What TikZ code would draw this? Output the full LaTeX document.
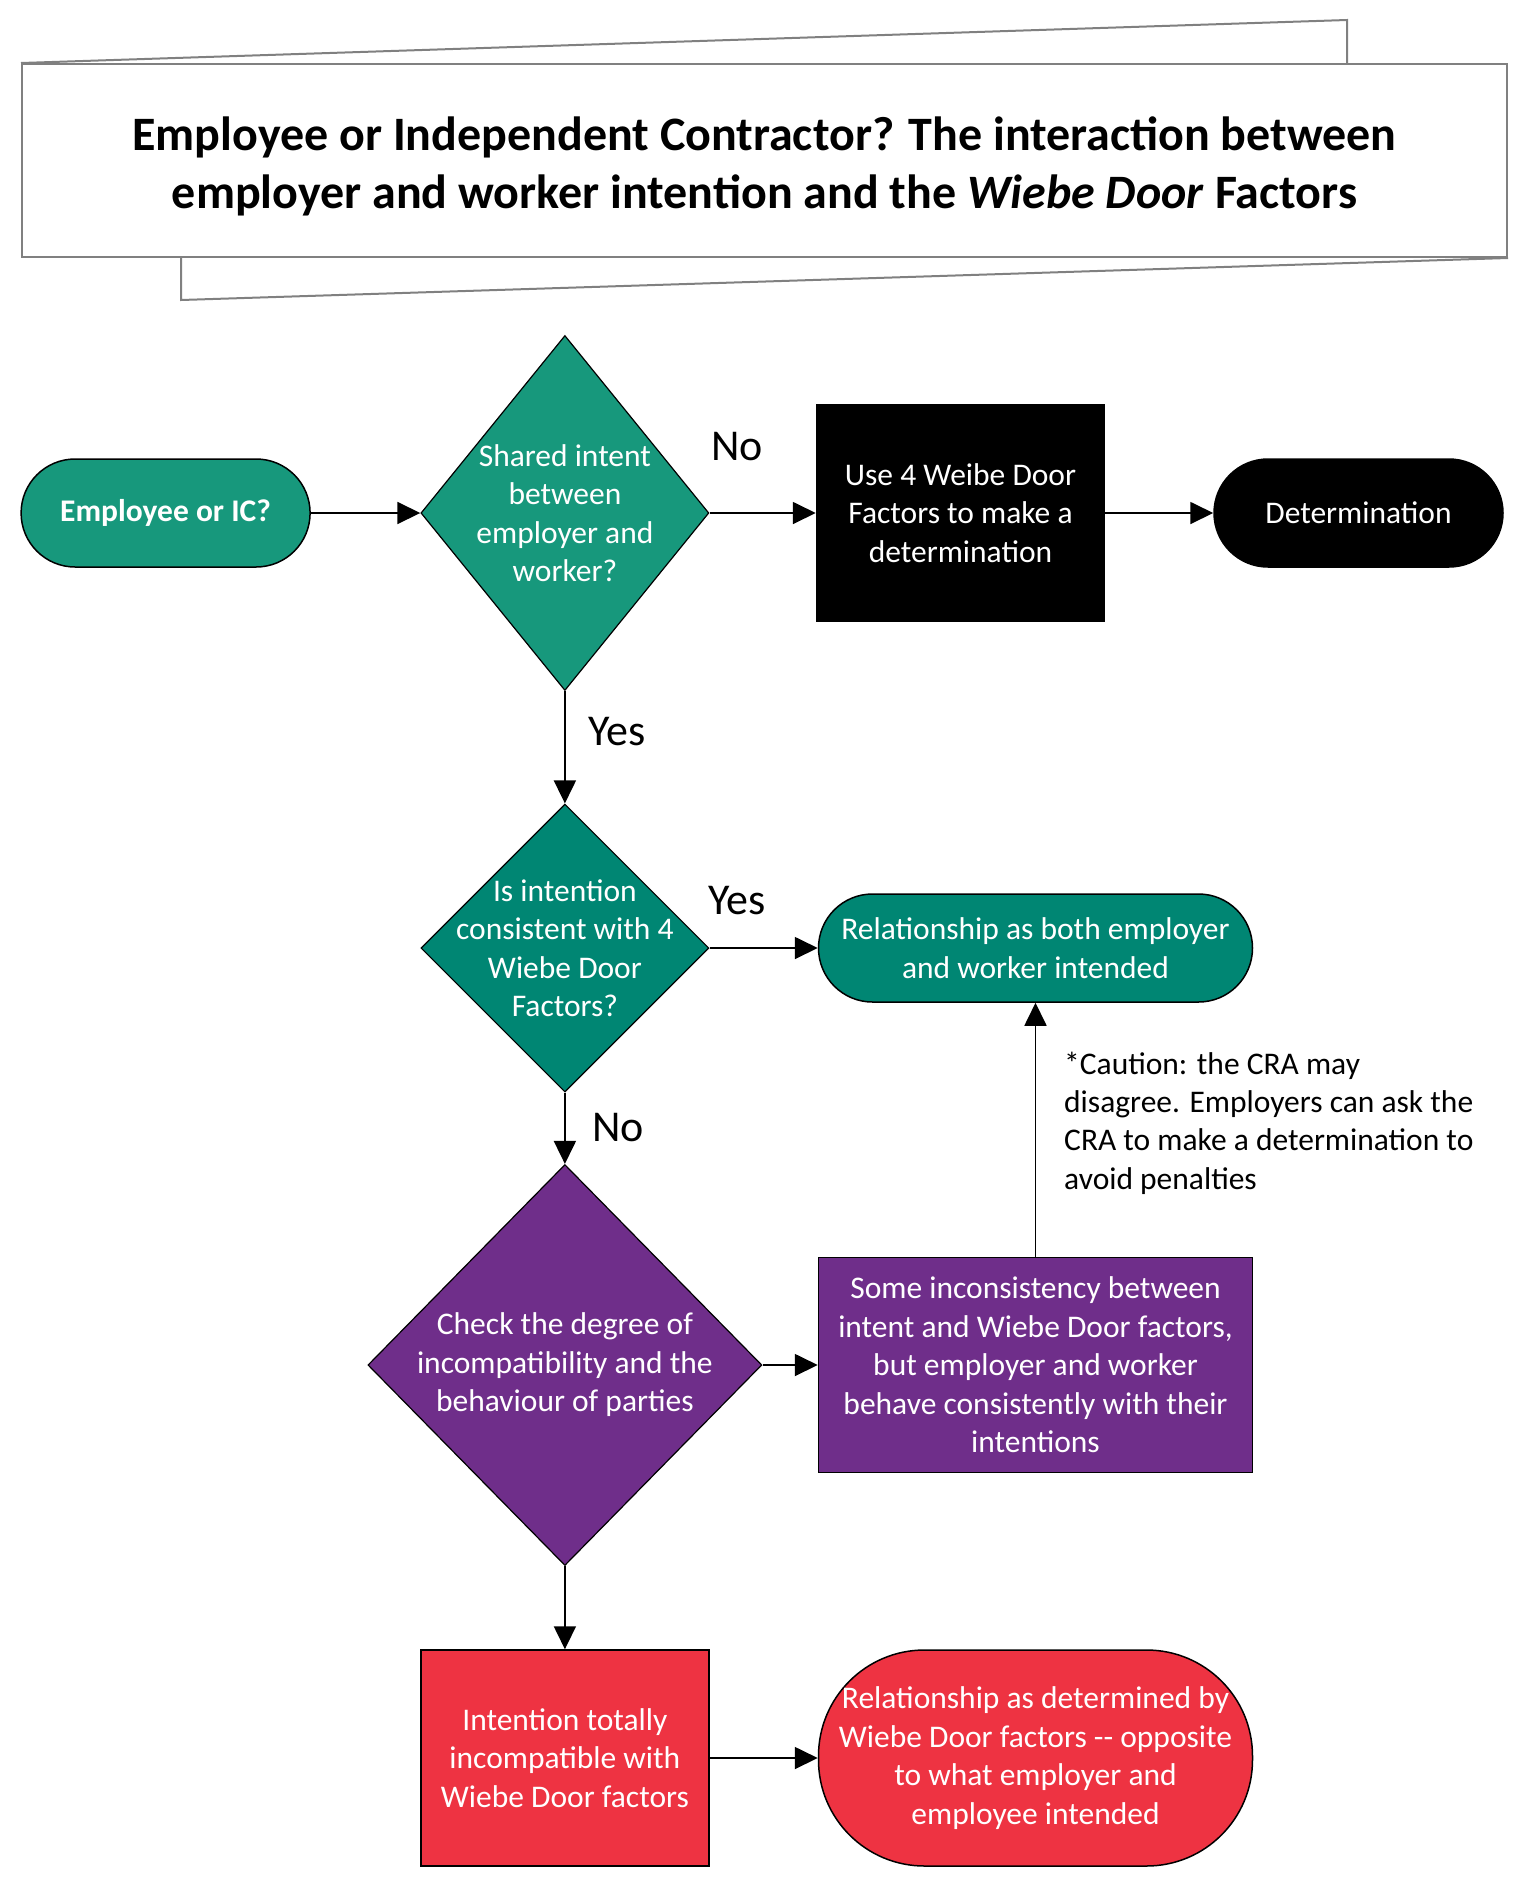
\documentclass[tikz,border=0pt]{standalone}
\usepackage{fontspec}
\setmainfont{Carlito}
\usetikzlibrary{shapes.geometric,arrows.meta}
\definecolor{tealA}{HTML}{17987C}
\definecolor{tealB}{HTML}{008673}
\definecolor{plum}{HTML}{6F2E8A}
\definecolor{redfill}{HTML}{EE3342}
\definecolor{banner}{HTML}{808080}
\tikzset{
    body/.style={font=\fontsize{31.5}{38.5}\selectfont, text=white, align=center, inner sep=0pt},
    term/.style={body, draw, line width=1.5pt, rounded corners=54pt, minimum width=289pt, minimum height=108pt},
    proc/.style={body, draw, line width=1.5pt, minimum width=288pt, minimum height=216pt},
    decide/.style={diamond, draw, line width=1.2pt, inner sep=0pt, minimum width=288pt, minimum height=288pt},
    answer/.style={font=\fontsize{44}{53}\selectfont, inner sep=0pt},
    flow/.style={-{Triangle[length=23pt,width=22pt]}, line width=1.8pt},
}
\begin{document}
\begin{tikzpicture}[x=1pt, y=-1pt]
        \useasboundingbox (0,0) rectangle (1526,1888);
        % title banner
        \node[draw=banner, line width=2pt, minimum width=1485pt, minimum height=193pt] at(764.5, 160.5) (title) {};
        \coordinate (bandtop) at(1347, 20);
        \coordinate (bandbot) at(181, 300);
        \draw[banner, line width=2pt] (title.north west) -- (bandtop) -- (bandtop |- title.north);
        \draw[banner, line width=2pt] (bandbot |- title.south) -- (bandbot) -- (title.south east);
        \node[font=\fontsize{48}{58}\selectfont\bfseries, align=center, inner sep=0pt] at(764.5, 166) (titletext)
            {Employee or Independent Contractor? The interaction between\\employer and worker intention and the \textit{Wiebe Door} Factors};
        % first row
        \node[term, fill=tealA] at(165.6, 513) (start) {\bfseries Employee or IC?};
        \node[decide, fill=tealA, minimum height=355pt] at(564.9, 513) (d1) {};
        \node[body] at(d1) (d1text) {Shared intent\\between\\employer and\\worker?};
        \node[proc, fill=black, minimum height=217pt] at(960.5, 513) (factors) {Use 4 Weibe Door\\Factors to make a\\determination};
        \node[term, fill=black] at(1358.5, 513) (determ) {Determination};
        % second row
        \node[decide, fill=tealB] at(564.9, 948) (d2) {};
        \node[body] at(d2) (d2text) {Is intention\\consistent with 4\\Wiebe Door\\Factors?};
        \node[term, fill=tealB, minimum width=434pt] at(1035.5, 948) (intended) {Relationship as both employer\\and worker intended};
        \node[font=\fontsize{31.5}{38.2}\selectfont, align=left, inner sep=0pt, anchor=base west] at(1064, 1189) (caution)
            {*Caution: the CRA may\\disagree. Employers can ask the\\CRA to make a determination to\\avoid penalties};
        % third row
        \node[decide, fill=plum, minimum width=394pt, minimum height=401pt] at(564.9, 1365) (d3) {};
        \node[body] at(d3) (d3text) {Check the degree of\\incompatibility and the\\behaviour of parties};
        \node[proc, fill=plum, minimum width=434pt, minimum height=215pt] at(1035.5, 1365) (somediff)
            {Some inconsistency between\\intent and Wiebe Door factors,\\but employer and worker\\behave consistently with their\\intentions};
        % last row
        \node[proc, fill=redfill] at(564.9, 1758) (totally) {Intention totally\\incompatible with\\Wiebe Door factors};
        \node[term, fill=redfill, rounded corners=106pt, minimum width=434pt, minimum height=216pt] at(1035.5, 1758) (opposite)
            {Relationship as determined by\\Wiebe Door factors -{}- opposite\\to what employer and\\employee intended};
        % answers
        \node[answer] at(737, 447) (no1) {No};
        \node[answer] at(617, 732) (yes1) {Yes};
        \node[answer] at(737, 901) (yes2) {Yes};
        \node[answer] at(618, 1128) (no2) {No};
        % connectors
        \draw[flow] (start) -- (d1);
        \draw[flow] (d1) -- (factors);
        \draw[flow] (factors) -- (determ);
        \draw[flow] (d1) -- (d2);
        \draw[flow] (d2) -- (intended);
        \draw[flow] (d2) -- (d3);
        \draw[flow] (d3) -- (somediff);
        \draw[flow] (somediff) -- (intended);
        \draw[flow] (d3) -- (totally);
        \draw[flow] (totally) -- (opposite);
    \end{tikzpicture}
\end{document}
